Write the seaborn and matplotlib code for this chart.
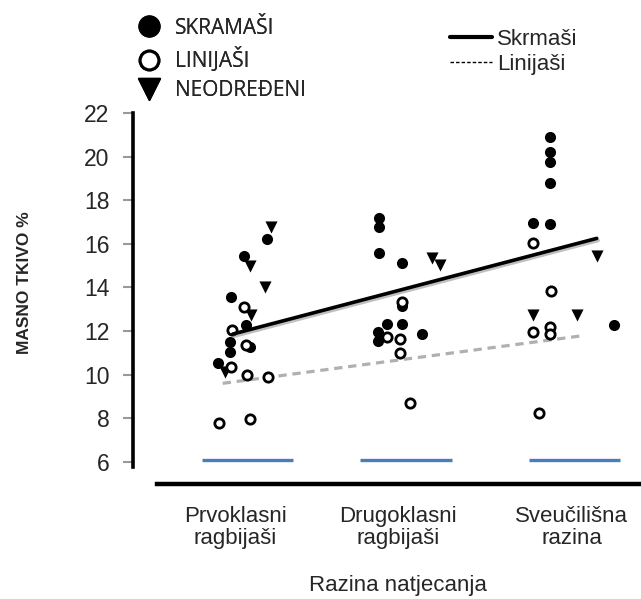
import matplotlib
matplotlib.use("Agg")
import matplotlib.pyplot as plt
import matplotlib.patheffects as pe
from matplotlib.lines import Line2D
import seaborn as sns

# ── data ────────────────────────────────────────────────────────────
categories = ["Prvoklasni\nragbijaši", "Drugoklasni\nragbijaši", "Sveučilišna\nrazina"]
category_pos = [0.93, 1.92, 2.98]
yticks = [6, 8, 10, 12, 14, 16, 18, 20, 22]

# Skrmaši (filled circles)
skrmasi_x = [1.124, 0.982, 0.900, 0.992, 0.896, 0.896, 1.020, 0.825,
             1.807, 1.807, 1.807, 1.943, 1.943, 1.852, 1.943, 1.800, 1.800, 2.065,
             2.848, 2.848, 2.848, 2.848, 2.746, 2.848, 3.238]
skrmasi_y = [16.20, 15.44, 13.54, 12.28, 11.51, 11.05, 11.25, 10.55,
             17.17, 16.78, 15.56, 15.13, 13.15, 12.32, 12.32, 11.97, 11.56, 11.85,
             20.91, 20.20, 19.74, 18.77, 16.94, 16.91, 12.28]

# Linijaši (open circles)
linijasi_x = [0.982, 0.907, 0.992, 0.900, 0.998, 1.130, 0.830, 1.018,
              1.943, 1.855, 1.933, 1.933, 1.994,
              2.746, 2.854, 2.746, 2.850, 2.850, 2.782]
linijasi_y = [13.09, 12.05, 11.36, 10.37, 9.98, 9.91, 7.76, 7.95,
              13.35, 11.74, 11.63, 10.98, 8.71,
              16.05, 13.85, 11.94, 12.20, 11.86, 8.25]

# Neodređeni (triangles)
neodredeni_x = [1.144, 1.018, 1.110, 1.022, 0.866,
                2.126, 2.177,
                3.132, 2.742, 3.014]
neodredeni_y = [16.78, 14.98, 14.03, 12.73, 10.10,
                15.33, 15.03,
                15.44, 12.73, 12.73]

# trend lines (end points)
fit_skrmasi_x = [0.913, 3.132]
fit_skrmasi_y = [11.86, 16.25]
fit_linijasi_x = [0.852, 3.030]
fit_linijasi_y = [9.60, 11.77]

# blue base marks under each group
base_left = [0.726, 1.689, 2.720]
base_right = [1.280, 2.250, 3.274]
base_y = [6.08, 6.08, 6.08]

# ── figure ──────────────────────────────────────────────────────────
sns.set_style("white")
plt.rcParams["font.family"] = ["Liberation Sans", "DejaVu Sans"]

W, H = 641, 599
fig = plt.figure(figsize=(W / 100, H / 100), dpi=100)
ax = fig.add_axes([133 / W, (H - 483.6) / H, 508 / W, 377.1 / H])

sns.scatterplot(x=skrmasi_x, y=skrmasi_y, marker="o", s=64, color="black",
                edgecolor="black", linewidth=0, ax=ax, zorder=3)
sns.scatterplot(x=neodredeni_x, y=neodredeni_y, marker="v", s=76, color="black",
                edgecolor="black", linewidth=0, ax=ax, zorder=3)
sns.scatterplot(x=linijasi_x, y=linijasi_y, marker="o", s=45, color="white",
                edgecolor="black", linewidth=2.0, ax=ax, zorder=4)

sns.lineplot(x=fit_skrmasi_x, y=fit_skrmasi_y, color="black", linewidth=2.6, ax=ax,
             zorder=5, path_effects=[pe.SimpleLineShadow(offset=(1, -1.5), shadow_color="grey",
                                                         alpha=0.5), pe.Normal()])
sns.lineplot(x=fit_linijasi_x, y=fit_linijasi_y, color="#b0b0b0", linewidth=2.3,
             linestyle=(0, (2.6, 1.8)), ax=ax, zorder=2)

ax.hlines(base_y, base_left, base_right, color="#4a7ebb", linewidth=2.4, zorder=2)

ax.set_xlim(0.305, 3.402)
ax.set_ylim(5.0, 22.3)
ax.set_yticks(yticks)
ax.set_xticks(category_pos)
ax.set_xticklabels(categories, fontsize=16, linespacing=1.1)
ax.tick_params(axis="y", direction="out", length=7, width=1.5, color="#999999",
               labelsize=16.5, pad=10, left=True)
ax.tick_params(axis="x", length=0, pad=16)

sns.despine(ax=ax)
ax.spines["left"].set_bounds(5.75, 22)
ax.spines["left"].set_linewidth(2.6)
ax.spines["left"].set_color("black")
ax.spines["bottom"].set_bounds(0.45, 3.402)
ax.spines["bottom"].set_linewidth(3.2)
ax.spines["bottom"].set_color("black")

ax.set_ylabel("MASNO TKIVO %", fontsize=12.5, fontweight="bold")
ax.yaxis.set_label_coords(-0.198, 0.532)
ax.set_xlabel("Razina natjecanja", fontsize=16)
ax.xaxis.set_label_coords(0.522, -0.269)
ax.xaxis.label.set_va("center")

# marker legend (top left)
marker_handles = [
    Line2D([], [], linestyle="none", marker="o", markersize=15, color="black"),
    Line2D([], [], linestyle="none", marker="o", markersize=13.5, markerfacecolor="white",
           markeredgecolor="black", markeredgewidth=2.2),
    Line2D([], [], linestyle="none", marker="v", markersize=16, color="black"),
]
leg1 = fig.legend(marker_handles, ["SKRAMAŠI", "LINIJAŠI", "NEODREĐENI"],
                  loc="upper left", bbox_to_anchor=(138.3 / W, 1 - 17.5 / H),
                  frameon=False, borderpad=0, borderaxespad=0, handlelength=1,
                  handletextpad=0.74, labelspacing=0.4,
                  prop={"family": ["Open Sans", "DejaVu Sans"], "size": 15})

# line legend (top right)
line_handles = [
    Line2D([], [], color="black", linewidth=3),
    Line2D([], [], color="black", linewidth=1, linestyle=(0, (2.5, 1.5))),
]
fig.legend(line_handles, ["Skrmaši", "Linijaši"], loc="upper left",
           bbox_to_anchor=(450 / W, 1 - 29 / H), frameon=False, borderpad=0,
           borderaxespad=0, handlelength=1.89, handletextpad=0.23, labelspacing=0.19,
           prop={"size": 16})
fig.add_artist(leg1)

fig.savefig("out.png", dpi=100)
